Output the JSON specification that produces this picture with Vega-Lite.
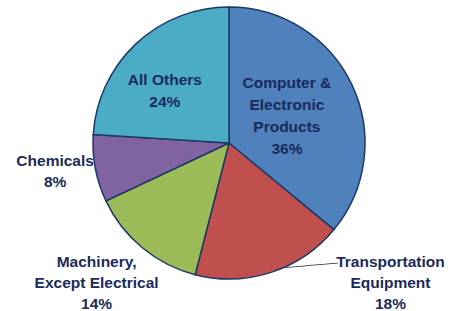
{
  "$schema": "https://vega.github.io/schema/vega-lite/v6.json",
  "width": 442,
  "height": 286,
  "autosize": {"type": "none"},
  "padding": {"left": 8, "top": 0, "right": 0, "bottom": 25},
  "background": "white",
  "config": {"view": {"stroke": null}},
  "data": {
    "values": [
      {"cat": "Computer & Electronic Products", "share": 36, "ord": 1, "label": "Computer &\nElectronic\nProducts\n36%"},
      {"cat": "Transportation Equipment", "share": 18, "ord": 2, "label": "Transportation\nEquipment\n18%"},
      {"cat": "Machinery, Except Electrical", "share": 14, "ord": 3, "label": "Machinery,\nExcept Electrical\n14%"},
      {"cat": "Chemicals", "share": 8, "ord": 4, "label": "Chemicals\n8%"},
      {"cat": "All Others", "share": 24, "ord": 5, "label": "All Others\n24%"}
    ]
  },
  "encoding": {
    "theta": {"field": "share", "type": "quantitative", "stack": true},
    "order": {"field": "ord", "type": "quantitative"}
  },
  "layer": [
    {
      "mark": {"type": "arc", "outerRadius": 136, "stroke": "#1F3864", "strokeWidth": 1.5},
      "encoding": {
        "color": {
          "field": "cat",
          "type": "nominal",
          "scale": {
            "domain": ["Computer & Electronic Products", "Transportation Equipment", "Machinery, Except Electrical", "Chemicals", "All Others"],
            "range": ["#4F81BD", "#C0504D", "#9BBB59", "#8064A2", "#4BACC6"]
          },
          "legend": null
        }
      }
    },
    {
      "mark": {"type": "text", "radius": 64, "dx": 0, "dy": -33, "font": "Liberation Sans", "fontWeight": "bold", "fontSize": 15.5, "lineHeight": 22, "lineBreak": "\n", "color": "#1B2A5C", "align": "center", "baseline": "middle"},
      "encoding": {"text": {"condition": {"test": "datum.ord === 1", "field": "label"}, "value": ""}}
    },
    {
      "mark": {"type": "text", "radius": 82, "dx": -8, "dy": -3, "font": "Liberation Sans", "fontWeight": "bold", "fontSize": 15.5, "lineHeight": 22, "lineBreak": "\n", "color": "#1B2A5C", "align": "center", "baseline": "middle"},
      "encoding": {"text": {"condition": {"test": "datum.ord === 5", "field": "label"}, "value": ""}}
    },
    {
      "mark": {"type": "text", "radius": 176, "dx": -1, "dy": -14.5, "font": "Liberation Sans", "fontWeight": "bold", "fontSize": 15.5, "lineHeight": 21, "lineBreak": "\n", "color": "#1B2A5C", "align": "center", "baseline": "middle"},
      "encoding": {"text": {"condition": {"test": "datum.ord === 4", "field": "label"}, "value": ""}}
    },
    {
      "mark": {"type": "text", "radius": 192, "dx": -10, "dy": -29, "font": "Liberation Sans", "fontWeight": "bold", "fontSize": 15.5, "lineHeight": 21, "lineBreak": "\n", "color": "#1B2A5C", "align": "center", "baseline": "middle"},
      "encoding": {"text": {"condition": {"test": "datum.ord === 3", "field": "label"}, "value": ""}}
    },
    {
      "mark": {"type": "text", "radius": 147, "dx": 116, "dy": -21, "font": "Liberation Sans", "fontWeight": "bold", "fontSize": 15.5, "lineHeight": 21, "lineBreak": "\n", "color": "#1B2A5C", "align": "center", "baseline": "middle"},
      "encoding": {"text": {"condition": {"test": "datum.ord === 2", "field": "label"}, "value": ""}}
    },
    {
      "mark": {"type": "text", "radius": 131, "dx": 40, "dy": 2, "angle": -5, "font": "DejaVu Sans", "fontSize": 10.5, "color": "#2A3550", "align": "center", "baseline": "middle"},
      "encoding": {"text": {"condition": {"test": "datum.ord === 2", "value": "─────────"}, "value": ""}}
    }
  ]
}
